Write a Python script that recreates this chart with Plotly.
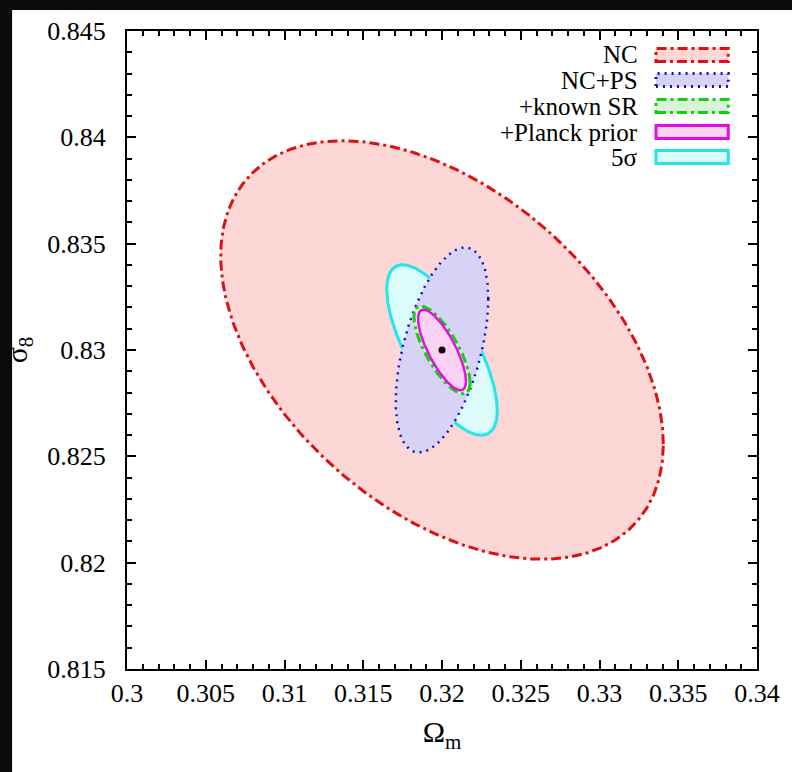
import numpy as np
import plotly.graph_objects as go

# ---- data (Fisher-ellipse parameters) ----
labels = ["NC", "NC+PS", "+known SR", "+Planck prior", "5σ"]
center_om = [0.3200, 0.3200, 0.3200, 0.3200, 0.3200]
center_s8 = [0.8300, 0.8300, 0.8300, 0.8300, 0.8300]
half_om = [0.01405, 0.00294, 0.00178, 0.00152, 0.00351]
half_s8 = [0.00984, 0.00482, 0.00206, 0.00190, 0.00401]
rho = [-0.45, 0.50, -0.75, -0.77, -0.71]
fiducial_om = [0.32]
fiducial_s8 = [0.83]
x_ticks = [0.3, 0.305, 0.31, 0.315, 0.32, 0.325, 0.33, 0.335, 0.34]
y_ticks = [0.815, 0.82, 0.825, 0.83, 0.835, 0.84, 0.845]

line_colors = ["#e01010", "#1010d0", "#10d010", "#e010e0", "#20e8e8"]
fill_colors = ["#fdd6d6", "#d7d3f6", "#d8f3d8", "#fad2f3", "#dcfcfc"]
dashes = ["10px,4px,3px,4px", "2px,5px", "10px,4px,3px,4px", "solid", "solid"]
widths = [3, 2.5, 3, 2.5, 3]
draw_order = [0, 4, 1, 2, 3]

FONT = "Liberation Serif, Times New Roman, serif"

fig = go.Figure()
t = np.linspace(0, 2 * np.pi, 400)
for i in draw_order:
    xs = center_om[i] + half_om[i] * np.cos(t)
    ys = center_s8[i] + half_s8[i] * (rho[i] * np.cos(t) + np.sqrt(1 - rho[i] ** 2) * np.sin(t))
    fig.add_trace(go.Scatter(
        x=xs, y=ys, mode="lines", fill="toself", fillcolor=fill_colors[i],
        line=dict(color=line_colors[i], width=widths[i], dash=dashes[i]),
        name=labels[i], showlegend=False, hoverinfo="skip"))

fig.add_trace(go.Scatter(x=fiducial_om, y=fiducial_s8, mode="markers",
                         marker=dict(color="black", size=7), showlegend=False))

# ---- manual legend (text right-aligned, sample box on the right) ----
W, H = 636.0, 638.0
row_px = [55, 80, 106, 132, 157]  # pixel rows from top of page
for k, lab in enumerate(labels):
    yc = (669 - row_px[k]) / H
    fig.add_annotation(x=(642 - 124) / W, y=yc, xref="paper", yref="paper",
                       text=lab, showarrow=False, xanchor="right", yanchor="middle",
                       font=dict(family=FONT, size=25, color="black"))
    fig.add_shape(type="rect", xref="paper", yref="paper",
                  x0=(658 - 124) / W, x1=(731 - 124) / W,
                  y0=yc - 6.5 / H, y1=yc + 6.5 / H,
                  fillcolor=fill_colors[k],
                  line=dict(color=line_colors[k], width=3, dash=dashes[k]))

# white panel on dark background
fig.add_shape(type="rect", xref="paper", yref="paper", layer="below",
              x0=(8 - 124) / W, x1=(800 - 124) / W, y0=(669 - 780) / H, y1=(669 - 10) / H,
              fillcolor="white", line=dict(width=0))

axis_common = dict(
    showgrid=False, zeroline=False, showline=True, linecolor="black", linewidth=2,
    mirror="allticks", ticks="inside", ticklen=9, tickwidth=2, tickcolor="black",
    minor=dict(ticks="inside", ticklen=5, tickwidth=1.5, tickcolor="black", dtick=0.001),
    tickfont=dict(family=FONT, size=26, color="black"),
)

fig.update_xaxes(range=[0.3, 0.34], tickvals=x_ticks,
                 ticktext=[f"{v:g}" for v in x_ticks],
                 title=dict(text="Ω<sub>m</sub>", font=dict(family=FONT, size=30, color="black"), standoff=14),
                 ticklabelstandoff=0, **axis_common)
fig.update_yaxes(range=[0.815, 0.845], tickvals=y_ticks,
                 ticktext=[f"{v:g}" for v in y_ticks],
                 title=dict(text="σ<sub>8</sub>", font=dict(family=FONT, size=30, color="black"), standoff=14),
                 ticklabelstandoff=14, **axis_common)

fig.update_layout(
    width=792, height=772,
    margin=dict(l=124, r=32, t=31, b=103),
    paper_bgcolor="#0a0a0a", plot_bgcolor="white",
    showlegend=False,
)

fig.write_html(
    "out.html",
    config={"displayModeBar": False},
    post_script="document.body.style.margin='0';document.body.style.background='#0a0a0a';",
)
